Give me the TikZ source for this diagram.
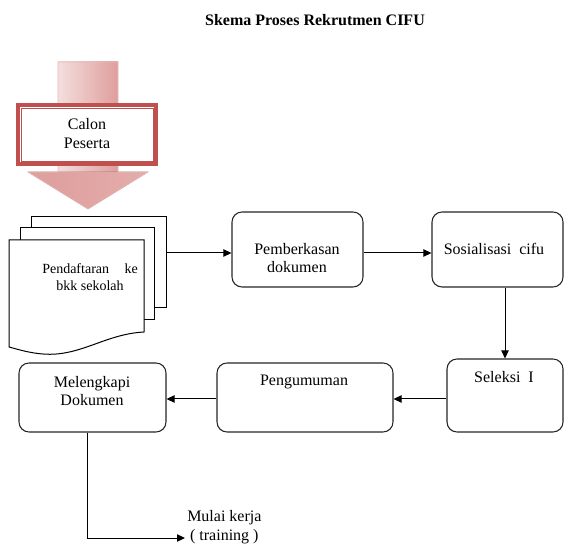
\documentclass[tikz,border=0pt]{standalone}
\usepackage{fontspec}
\setmainfont{Liberation Serif}
\usetikzlibrary{arrows.meta,calc}
\definecolor{redborder}{RGB}{192,80,77}
\definecolor{pinklight}{RGB}{244,222,222}
\definecolor{pinkdark}{RGB}{222,158,156}
\definecolor{pinkedge}{RGB}{230,185,184}
\tikzset{
  box/.style={draw=black!85, line width=0.8pt, rounded corners=7.5pt, fill=white, inner sep=0pt},
  lbl/.style={font=\fontsize{12}{14}\selectfont, align=center, inner sep=0pt},
  arr/.style={draw=black, line width=0.75pt, -{Triangle[length=6pt,width=5.5pt]}},
  page/.style={draw=black, line width=0.75pt, fill=white},
}
\begin{document}
\begin{tikzpicture}[x=0.75pt,y=-0.75pt]
\useasboundingbox (0,0) rectangle (571,548);
% title
\node[font=\bfseries\fontsize{12}{14}\selectfont, inner sep=0pt] (title) at (315,20) {Skema Proses Rekrutmen CIFU};

% big block arrow
\fill[left color=pinklight, right color=pinkdark] (58,62) rectangle (118,172);
\fill[left color=pinkdark, middle color=pinklight, right color=pinkdark!85] (28,172) -- (148,172) -- (88,209) -- cycle;
\draw[pinkedge, line width=0.5pt] (58,62) -- (118,62) -- (118,172) -- (148,172) -- (88,209) -- (28,172) -- (58,172) -- cycle;

% Calon Peserta box
\node[draw=redborder, line width=3pt, fill=white, inner sep=0pt,
      minimum width=103.5pt, minimum height=44.25pt] (calon) at (87,134.5) {};
\draw[redborder, line width=0.7pt] ($(calon.north west)+(5,5)$) rectangle ($(calon.south east)+(-5,-5)$);
\node[lbl] (calont) at (87,133.5) {Calon\\Peserta};

% multi-document
\node[page, inner sep=0pt, minimum width=101.25pt, minimum height=68.25pt] (docback) at (98.5,262.5) {};
\node[page, inner sep=0pt, minimum width=100.5pt, minimum height=69pt] (docmid) at (87,274) {};
\draw[page] (9,240) -- (144,240) -- (144,332) .. controls (105,334) and (80,357) .. (43,354) .. controls (30,353) and (20,350) .. (9,347) -- cycle;
\node[font=\fontsize{10.5}{13}\selectfont, align=center, inner sep=0pt] (pend) at (90,277) {Pendaftaran\hspace{1.1em}ke\\bkk sekolah};

% process boxes
\node[box, minimum width=98.25pt, minimum height=56.25pt] (pemb) at (297.5,249.5) {};
\node[lbl] (pembt) at (297,258) {Pemberkasan\\dokumen};
\node[box, minimum width=98.25pt, minimum height=56.25pt] (sos) at (497.5,249.5) {};
\node[lbl] (sost) at (494,249) {Sosialisasi\ \ cifu};
\node[box, minimum width=87pt, minimum height=54.75pt] (sel) at (505,395.5) {};
\node[lbl] (selt) at (504,377) {Seleksi\ \ I};
\node[box, minimum width=132pt, minimum height=51.75pt] (peng) at (305,397.5) {};
\node[lbl] (pengt) at (304,382) {Pengumuman};
\node[box, minimum width=110.25pt, minimum height=51.75pt] (mel) at (92.5,397.5) {};
\node[lbl] (melt) at (92,391) {Melengkapi\\Dokumen};
\node[lbl, anchor=west] (mulai) at (187,527) {Mulai kerja\\( training )};

% connectors
\coordinate (a1) at (166,253);
\draw[arr] (a1) -- (a1 -| pemb.west);
\coordinate (a2) at (363,253);
\draw[arr] (pemb.east |- a2) -- (sos.west |- a2);
\draw[arr] (sos.south -| sel.north) -- (sel.north);
\coordinate (a3) at (0,399);
\draw[arr] (sel.west |- a3) -- (peng.east |- a3);
\draw[arr] (peng.west |- a3) -- (mel.east |- a3);
\coordinate (a4) at (87,538);
\draw[arr] (mel.south -| a4) -- (a4) -- ($(mulai.west |- a4)+(-2,0)$);
\end{tikzpicture}
\end{document}
